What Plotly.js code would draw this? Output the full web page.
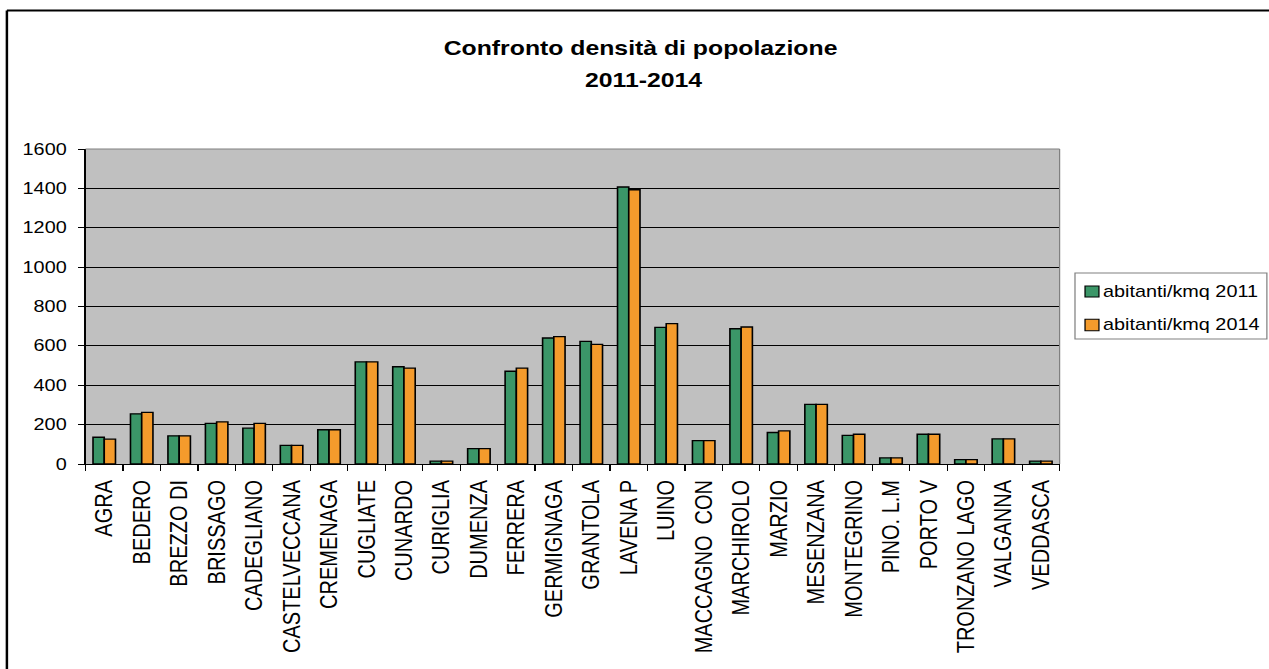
<!DOCTYPE html>
<html>
<head>
<meta charset="utf-8">
<script src="https://cdn.plot.ly/plotly-3.0.1.min.js"></script>
<style>
  html, body { margin: 0; padding: 0; background: #fff; overflow: hidden; }
  #wrap { position: absolute; left: 0; top: 0; width: 1024px; height: 669px;
          transform: scaleX(1.2393); transform-origin: 0 0; }
  #chart { width: 1024px; height: 669px; }
</style>
</head>
<body>
<div id="wrap"><div id="chart"></div></div>
<script>
const categories = ["AGRA","BEDERO","BREZZO DI","BRISSAGO","CADEGLIANO","CASTELVECCANA","CREMENAGA","CUGLIATE","CUNARDO","CURIGLIA","DUMENZA","FERRERA","GERMIGNAGA","GRANTOLA","LAVENA P","LUINO","MACCAGNO \u00a0CON","MARCHIROLO","MARZIO","MESENZANA","MONTEGRINO","PINO. L.M","PORTO V","TRONZANO LAGO","VALGANNA","VEDDASCA"];
const density2011 = [136,255,143,206,182,95,174,519,494,15,78,471,640,623,1407,694,119,687,160,303,145,31,151,22,128,15];
const density2014 = [126,262,143,214,206,95,174,519,487,15,78,487,647,608,1393,713,119,696,168,303,151,31,151,22,128,15];
const seriesNames = ["abitanti/kmq 2011","abitanti/kmq 2014"];
const titleLines = ["Confronto densità di popolazione","2011-2014"];
const yTicks = [0,200,400,600,800,1000,1200,1400,1600];

const colors = ["#3B9668","#F49B2C"];
const FONT = "Liberation Sans, Arial, sans-serif";

const traces = [density2011, density2014].map((vals, i) => ({
  type: "bar",
  name: seriesNames[i],
  x: categories,
  y: vals,
  marker: { color: colors[i], line: { color: "#000", width: 1.3 } },
  showlegend: false,
  hoverinfo: "skip"
}));

// legend drawn as shapes + annotations
const legendShapes = [
  { type: "rect", xref: "paper", yref: "paper", x0: 1.0158, x1: 1.2128, y0: 0.397, y1: 0.606,
    line: { color: "#808080", width: 1 }, fillcolor: "#ffffff", layer: "above" }
];
const legendY = [[0.530, 0.565], [0.4232, 0.4594]];
const legendTextY = [0.549, 0.444];
const legendAnn = [];
seriesNames.forEach((n, i) => {
  legendShapes.push({ type: "rect", xref: "paper", yref: "paper", x0: 1.0261, x1: 1.0404,
    y0: legendY[i][0], y1: legendY[i][1], line: { color: "#000", width: 1 }, fillcolor: colors[i], layer: "above" });
  legendAnn.push({ xref: "paper", yref: "paper", x: 1.042, y: legendTextY[i], xanchor: "left", yanchor: "middle",
    text: n, showarrow: false, font: { family: FONT, size: 16, color: "#000" } });
});

const frameShapes = [
  { type: "line", xref: "paper", yref: "paper", x0: -0.0807, x1: -0.0807, y0: -2, y1: 1.4397, line: { color: "#000", width: 2 }, layer: "above" },
  { type: "line", xref: "paper", yref: "paper", x0: -0.0807, x1: 1.5, y0: 1.4397, y1: 1.4397, line: { color: "#000", width: 2 }, layer: "above" },
  { type: "line", xref: "paper", yref: "paper", x0: 0, x1: 1, y0: 1, y1: 1, line: { color: "#808080", width: 1 }, layer: "above" },
  { type: "line", xref: "paper", yref: "paper", x0: 1, x1: 1, y0: 0, y1: 1, line: { color: "#808080", width: 1 }, layer: "above" }
];

const titleAnn = [
  { xref: "paper", yref: "paper", x: 0.57, y: 1.321, xanchor: "center", yanchor: "middle", showarrow: false,
    text: "<b>" + titleLines[0] + "</b>", font: { family: FONT, size: 20, color: "#000" } },
  { xref: "paper", yref: "paper", x: 0.573, y: 1.219, xanchor: "center", yanchor: "middle", showarrow: false,
    text: "<b>" + titleLines[1] + "</b>", font: { family: FONT, size: 20, color: "#000" } }
];

const layout = {
  width: 1024, height: 669,
  margin: { l: 69, r: 169, t: 149, b: 205, pad: 0 },
  paper_bgcolor: "#ffffff",
  plot_bgcolor: "#C0C0C0",
  barmode: "group",
  bargap: 0.40,
  bargroupgap: 0,
  font: { family: FONT, color: "#000" },
  xaxis: {
    type: "category",
    tickangle: -90,
    tickson: "boundaries",
    ticks: "outside", ticklen: 6, tickcolor: "#000", tickwidth: 1,
    showline: true, linecolor: "#000", linewidth: 1,
    showgrid: false,
    tickfont: { family: FONT, size: 20, color: "#000" },
    ticklabelstandoff: 7,
    fixedrange: true
  },
  yaxis: {
    range: [0, 1600],
    tickvals: yTicks,
    ticktext: yTicks.map(String),
    ticks: "outside", ticklen: 5, tickcolor: "#000", tickwidth: 1,
    showline: true, linecolor: "#000", linewidth: 1,
    showgrid: true, gridcolor: "#000", gridwidth: 1,
    zeroline: false,
    tickfont: { family: FONT, size: 16, color: "#000" },
    ticklabelstandoff: 6,
    fixedrange: true
  },
  shapes: frameShapes.concat(legendShapes),
  annotations: titleAnn.concat(legendAnn),
  showlegend: false
};

Plotly.newPlot("chart", traces, layout, { staticPlot: true, displayModeBar: false });
</script>
</body>
</html>
